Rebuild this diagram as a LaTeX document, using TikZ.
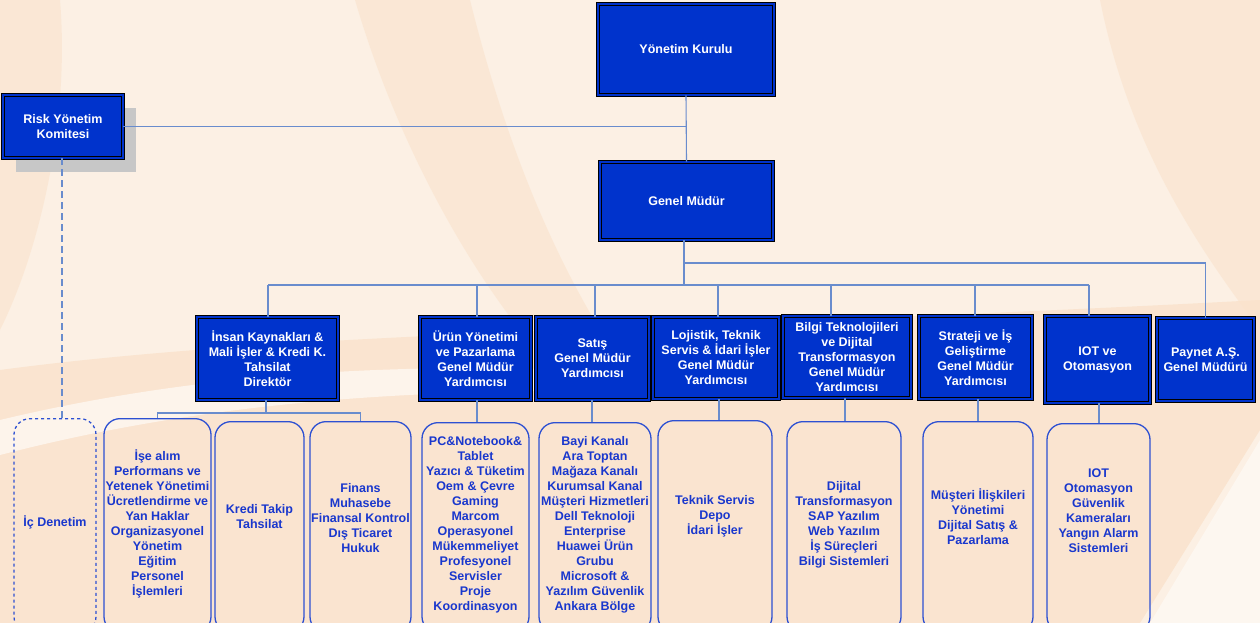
\documentclass[tikz,border=0pt]{standalone}
\usepackage{fontspec}
\setmainfont{Liberation Sans}
\definecolor{boxblue}{RGB}{0,51,204}
\definecolor{connblue}{RGB}{105,140,205}
\definecolor{subblue}{RGB}{45,80,210}
\definecolor{textblue}{RGB}{25,55,205}
\definecolor{bgbase}{RGB}{252,240,228}
\definecolor{bglight}{RGB}{254,248,242}
\definecolor{bgpeach}{RGB}{250,226,203}
\begin{document}
\begin{tikzpicture}[x=1pt,y=-1pt,
  topbox/.style={draw=black, line width=0.7pt, double=boxblue, double distance=2.2pt,
    fill=boxblue, text=white, font=\bfseries\fontsize{12.5}{15}\selectfont,
    align=center, inner sep=0pt},
  subbox/.style={draw=subblue, line width=1.3pt, rounded corners=16pt, inner sep=0pt, anchor=north},
  subtext/.style={text=textblue, font=\bfseries\fontsize{12.5}{15}\selectfont, align=center, inner sep=0pt},
  conn/.style={draw=connblue, line width=1.1pt}]
\useasboundingbox (0,0) rectangle (1260,623);
\clip (0,0) rectangle (1260,623);
% background
\fill[bgbase] (0,0) rectangle (1260,623);
\fill[bgpeach, opacity=0.6] (0,0) -- (60,0) .. controls (70,120) and (40,250) .. (0,330) -- cycle;
\fill[bgpeach, opacity=0.6] (355,0) -- (470,0) .. controls (500,120) and (540,230) .. (600,330) -- (520,330) .. controls (450,240) and (390,120) .. (355,0) -- cycle;
\fill[bgpeach, opacity=0.6] (1100,0) -- (1260,0) -- (1260,330) .. controls (1200,250) and (1130,150) .. (1100,0) -- cycle;
\fill[bgpeach, opacity=0.8] (0,370) .. controls (300,330) and (700,330) .. (1260,300) -- (1260,430) -- (1140,623) -- (0,623) -- cycle;
\fill[bglight, opacity=0.8] (0,420) .. controls (250,360) and (500,360) .. (760,380) -- (760,395) .. controls (500,385) and (250,390) .. (0,455) -- cycle;
\fill[bglight, opacity=0.9] (1260,440) -- (1260,623) -- (1150,623) -- cycle;
% top boxes
\fill[black!22] (16,108) rectangle (136,172);
\node[topbox, minimum width=176pt, minimum height=91pt] (yk) at (686,49.5) {Yönetim Kurulu};
\node[topbox, minimum width=120pt, minimum height=63pt] (risk) at (63,126.5) {Risk Yönetim\\Komitesi};
\node[topbox, minimum width=173pt, minimum height=78pt] (gm) at (686.5,201) {Genel Müdür};
% level 2
\node[topbox, minimum width=141pt, minimum height=83pt] (ik) at (267.5,358.5) {İnsan Kaynakları \&\\Mali İşler \& Kredi K.\\Tahsilat\\Direktör};
\node[topbox, minimum width=111pt, minimum height=83pt] (urun) at (475.5,358.5) {Ürün Yönetimi\\ve Pazarlama\\Genel Müdür\\Yardımcısı};
\node[topbox, minimum width=113pt, minimum height=83pt] (satis) at (592.5,358.5) {Satış\\Genel Müdür\\Yardımcısı};
\node[topbox, minimum width=126pt, minimum height=82pt] (loj) at (716,358) {Lojistik, Teknik\\Servis \& İdari İşler\\Genel Müdür\\Yardımcısı};
\node[topbox, minimum width=128pt, minimum height=82pt] (bilgi) at (847,357) {Bilgi Teknolojileri\\ve Dijital\\Transformasyon\\Genel Müdür\\Yardımcısı};
\node[topbox, minimum width=113pt, minimum height=83pt] (strat) at (975.5,357.5) {Strateji ve İş\\Geliştirme\\Genel Müdür\\Yardımcısı};
\node[topbox, minimum width=105pt, minimum height=87pt] (iot) at (1097.5,359.5) {IOT ve\\Otomasyon};
\node[topbox, minimum width=97pt, minimum height=83pt] (paynet) at (1205.5,359.5) {Paynet A.Ş.\\Genel Müdürü};
% level 3 boxes
\node[subbox, dashed, minimum width=82pt, minimum height=214pt] (icd) at (55,418) {};
\node[subbox, minimum width=107pt, minimum height=214pt] (ise) at (157.5,418) {};
\node[subbox, minimum width=89pt, minimum height=211pt] (kredi) at (259.5,421) {};
\node[subbox, minimum width=101pt, minimum height=211pt] (fin) at (360.5,421) {};
\node[subbox, minimum width=107pt, minimum height=210pt] (pc) at (475.5,422) {};
\node[subbox, minimum width=112pt, minimum height=210pt] (bayi) at (595,422) {};
\node[subbox, minimum width=114pt, minimum height=212pt] (tek) at (715,420) {};
\node[subbox, minimum width=114pt, minimum height=211pt] (dij) at (844,421) {};
\node[subbox, minimum width=110pt, minimum height=211pt] (mus) at (978,421) {};
\node[subbox, minimum width=103pt, minimum height=209pt] (iotb) at (1098.5,423) {};
% level 3 texts
\node[subtext] (icdT) at (55,522) {İç Denetim};
\node[subtext] (iseT) at (157.5,523.5) {İşe alım\\Performans ve\\Yetenek Yönetimi\\Ücretlendirme ve\\Yan Haklar\\Organizasyonel\\Yönetim\\Eğitim\\Personel\\İşlemleri};
\node[subtext] (krediT) at (259.5,517) {Kredi Takip\\Tahsilat};
\node[subtext] (finT) at (360.5,518) {Finans\\Muhasebe\\Finansal Kontrol\\Dış Ticaret\\Hukuk};
\node[subtext] (pcT) at (475.5,524.5) {PC\&Notebook\&\\Tablet\\Yazıcı \& Tüketim\\Oem \& Çevre\\Gaming\\Marcom\\Operasyonel\\Mükemmeliyet\\Profesyonel\\Servisler\\Proje\\Koordinasyon};
\node[subtext] (bayiT) at (595,525) {Bayi Kanalı\\Ara Toptan\\Mağaza Kanalı\\Kurumsal Kanal\\Müşteri Hizmetleri\\Dell Teknoloji\\Enterprise\\Huawei Ürün\\Grubu\\Microsoft \&\\Yazılım Güvenlik\\Ankara Bölge};
\node[subtext] (tekT) at (715,516.5) {Teknik Servis\\Depo\\İdari İşler};
\node[subtext] (dijT) at (844,524.5) {Dijital\\Transformasyon\\SAP Yazılım\\Web Yazılım\\İş Süreçleri\\Bilgi Sistemleri};
\node[subtext] (musT) at (978,516.5) {Müşteri İlişkileri\\Yönetimi\\Dijital Satış \&\\Pazarlama};
\node[subtext] (iotT) at (1098.5,510.5) {IOT\\Otomasyon\\Güvenlik\\Kameraları\\Yangın Alarm\\Sistemleri};
% connectors
\coordinate (busA) at (684,263);
\coordinate (busB) at (684,285);
\draw[conn] (yk.south) -- (gm.north);
\draw[conn] (risk.east) -- (risk.east -| yk.south);
\draw[conn] ([xshift=-2.5pt]gm.south) -- (busB);
\draw[conn] (busA) -| (paynet.north);
\draw[conn] ([xshift=0.5pt]busB -| ik.north) -- ([xshift=-8.5pt]busB -| iot.north);
\draw[conn] ([xshift=0.5pt]ik.north |- busB) -- ([xshift=0.5pt]ik.north);
\draw[conn] ([xshift=1.5pt]urun.north |- busB) -- ([xshift=1.5pt]urun.north);
\draw[conn] ([xshift=2.5pt]satis.north |- busB) -- ([xshift=2.5pt]satis.north);
\draw[conn] ([xshift=2pt]loj.north |- busB) -- ([xshift=2pt]loj.north);
\draw[conn] ([xshift=-16pt]bilgi.north |- busB) -- ([xshift=-16pt]bilgi.north);
\draw[conn] ([xshift=-0.5pt]strat.north |- busB) -- ([xshift=-0.5pt]strat.north);
\draw[conn] ([xshift=-8.5pt]iot.north |- busB) -- ([xshift=-8.5pt]iot.north);
% level 2 to level 3
\coordinate (ikbus) at (266,413);
\draw[conn] (ik.south -| ikbus) -- (ikbus);
\draw[conn] (ise.north) |- (ikbus) -| (fin.north);
\draw[conn] ([xshift=1.5pt]urun.south) -- ([xshift=1.5pt]pc.north);
\draw[conn] ([xshift=-0.5pt]satis.south) -- ([xshift=-0.5pt]satis.south |- bayi.north);
\draw[conn] ([xshift=3pt]loj.south) -- ([xshift=3pt]loj.south |- tek.north);
\draw[conn] ([xshift=-2pt]bilgi.south) -- ([xshift=-2pt]bilgi.south |- dij.north);
\draw[conn] ([xshift=2.5pt]strat.south) -- ([xshift=2.5pt]strat.south |- mus.north);
\draw[conn] ([xshift=1.5pt]iot.south) -- ([xshift=1.5pt]iot.south |- iotb.north);
\draw[conn, dashed, dash pattern=on 7pt off 4pt] ([xshift=-1pt]risk.south) -- ([xshift=-1pt]risk.south |- icd.north);
\end{tikzpicture}
\end{document}
